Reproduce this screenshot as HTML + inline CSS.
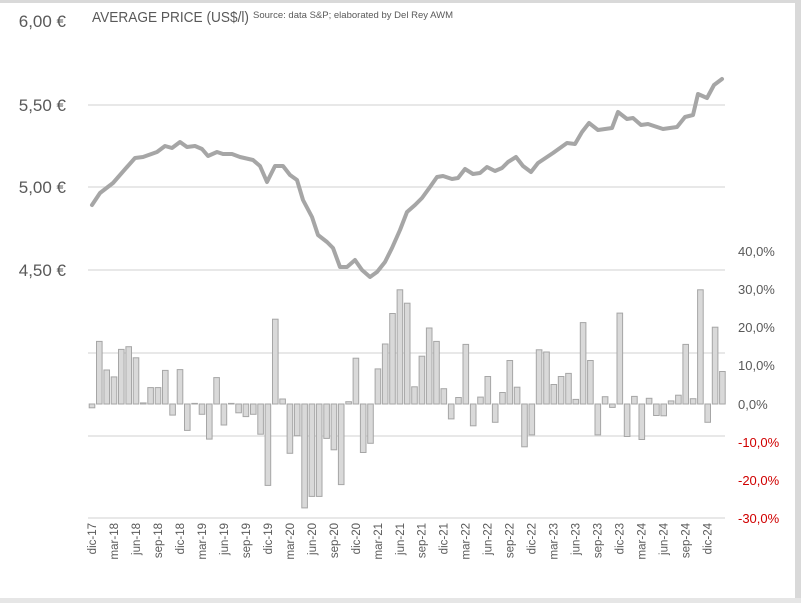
<!DOCTYPE html>
<html><head><meta charset="utf-8"><style>
html,body{margin:0;padding:0;background:#fff;}
svg{display:block;font-family:"Liberation Sans",Arial,sans-serif;}
</style></head><body>
<svg width="801" height="603" viewBox="0 0 801 603" xmlns="http://www.w3.org/2000/svg">
<rect x="0" y="0" width="801" height="603" fill="#fff"/>
<rect x="0" y="0" width="801" height="3" fill="#d9d9d9"/>
<rect x="795" y="0" width="6" height="603" fill="#d9d9d9"/>
<rect x="0" y="598" width="801" height="5" fill="#e6e6e6"/>
<g stroke="#d9d9d9" stroke-width="1.2">
<line x1="88" y1="105" x2="725" y2="105"/>
<line x1="88" y1="187" x2="725" y2="187"/>
<line x1="88" y1="270" x2="725" y2="270"/>
<line x1="88" y1="353" x2="725" y2="353"/>
<line x1="88" y1="436" x2="725" y2="436"/>
<line x1="88" y1="518" x2="725" y2="518"/>
</g>
<g font-size="17" fill="#595959" text-anchor="end">
<text x="66" y="27">6,00 €</text>
<text x="66" y="111">5,50 €</text>
<text x="66" y="193">5,00 €</text>
<text x="66" y="276">4,50 €</text>
</g>
<text x="92" y="22" font-size="14.5" fill="#595959" textLength="157" lengthAdjust="spacingAndGlyphs">AVERAGE PRICE (US$/l)</text>
<text x="253" y="18" font-size="9.5" fill="#595959" textLength="200" lengthAdjust="spacingAndGlyphs">Source: data S&amp;P; elaborated by Del Rey AWM</text>
<g font-size="13" fill="#595959">
<text x="738" y="256">40,0%</text>
<text x="738" y="294">30,0%</text>
<text x="738" y="332">20,0%</text>
<text x="738" y="370">10,0%</text>
<text x="738" y="409">0,0%</text>
</g>
<g font-size="13" fill="#d00000">
<text x="738" y="447">-10,0%</text>
<text x="738" y="485">-20,0%</text>
<text x="738" y="523">-30,0%</text>
</g>
<g fill="#d9d9d9" stroke="#a6a6a6" stroke-width="1">
<rect x="89.2" y="404" width="5.6" height="3.8"/>
<rect x="96.5" y="341.4" width="5.6" height="62.6"/>
<rect x="103.9" y="370" width="5.6" height="34"/>
<rect x="111.2" y="376.9" width="5.6" height="27.1"/>
<rect x="118.5" y="349.4" width="5.6" height="54.6"/>
<rect x="125.9" y="346.7" width="5.6" height="57.3"/>
<rect x="133.2" y="357.8" width="5.6" height="46.2"/>
<rect x="140.5" y="402.9" width="5.6" height="1.1"/>
<rect x="147.8" y="387.6" width="5.6" height="16.4"/>
<rect x="155.2" y="387.6" width="5.6" height="16.4"/>
<rect x="162.5" y="370.4" width="5.6" height="33.6"/>
<rect x="169.8" y="404" width="5.6" height="11.1"/>
<rect x="177.2" y="369.6" width="5.6" height="34.4"/>
<rect x="184.5" y="404" width="5.6" height="26.4"/>
<rect x="191.8" y="403.4" width="5.6" height="0.6"/>
<rect x="199.2" y="404" width="5.6" height="10.3"/>
<rect x="206.5" y="404" width="5.6" height="35.1"/>
<rect x="213.8" y="377.6" width="5.6" height="26.4"/>
<rect x="221.1" y="404" width="5.6" height="21"/>
<rect x="228.5" y="403.4" width="5.6" height="0.6"/>
<rect x="235.8" y="404" width="5.6" height="8.8"/>
<rect x="243.1" y="404" width="5.6" height="12.6"/>
<rect x="250.5" y="404" width="5.6" height="10.3"/>
<rect x="257.8" y="404" width="5.6" height="30.2"/>
<rect x="265.1" y="404" width="5.6" height="81.4"/>
<rect x="272.5" y="319.2" width="5.6" height="84.8"/>
<rect x="279.8" y="399" width="5.6" height="5"/>
<rect x="287.1" y="404" width="5.6" height="49.3"/>
<rect x="294.4" y="404" width="5.6" height="31.7"/>
<rect x="301.8" y="404" width="5.6" height="103.9"/>
<rect x="309.1" y="404" width="5.6" height="92.4"/>
<rect x="316.4" y="404" width="5.6" height="92.4"/>
<rect x="323.8" y="404" width="5.6" height="34.4"/>
<rect x="331.1" y="404" width="5.6" height="45.8"/>
<rect x="338.4" y="404" width="5.6" height="80.6"/>
<rect x="345.8" y="401.7" width="5.6" height="2.3"/>
<rect x="353.1" y="358.2" width="5.6" height="45.8"/>
<rect x="360.4" y="404" width="5.6" height="48.5"/>
<rect x="367.7" y="404" width="5.6" height="39.3"/>
<rect x="375.1" y="368.9" width="5.6" height="35.1"/>
<rect x="382.4" y="344" width="5.6" height="60"/>
<rect x="389.7" y="313.5" width="5.6" height="90.5"/>
<rect x="397.1" y="289.8" width="5.6" height="114.2"/>
<rect x="404.4" y="303.2" width="5.6" height="100.8"/>
<rect x="411.7" y="386.8" width="5.6" height="17.2"/>
<rect x="419.1" y="356.2" width="5.6" height="47.8"/>
<rect x="426.4" y="328" width="5.6" height="76"/>
<rect x="433.7" y="341.4" width="5.6" height="62.6"/>
<rect x="441" y="388.7" width="5.6" height="15.3"/>
<rect x="448.4" y="404" width="5.6" height="14.9"/>
<rect x="455.7" y="397.5" width="5.6" height="6.5"/>
<rect x="463" y="344.4" width="5.6" height="59.6"/>
<rect x="470.4" y="404" width="5.6" height="21.8"/>
<rect x="477.7" y="397.1" width="5.6" height="6.9"/>
<rect x="485" y="376.5" width="5.6" height="27.5"/>
<rect x="492.4" y="404" width="5.6" height="18.3"/>
<rect x="499.7" y="392.5" width="5.6" height="11.5"/>
<rect x="507" y="360.5" width="5.6" height="43.5"/>
<rect x="514.3" y="387.2" width="5.6" height="16.8"/>
<rect x="521.7" y="404" width="5.6" height="42.8"/>
<rect x="529" y="404" width="5.6" height="30.9"/>
<rect x="536.3" y="349.8" width="5.6" height="54.2"/>
<rect x="543.7" y="352" width="5.6" height="52"/>
<rect x="551" y="384.5" width="5.6" height="19.5"/>
<rect x="558.3" y="376.5" width="5.6" height="27.5"/>
<rect x="565.7" y="373.4" width="5.6" height="30.6"/>
<rect x="573" y="399.4" width="5.6" height="4.6"/>
<rect x="580.3" y="322.6" width="5.6" height="81.4"/>
<rect x="587.6" y="360.5" width="5.6" height="43.5"/>
<rect x="595" y="404" width="5.6" height="30.9"/>
<rect x="602.3" y="396.7" width="5.6" height="7.3"/>
<rect x="609.6" y="404" width="5.6" height="3.4"/>
<rect x="617" y="313.1" width="5.6" height="90.9"/>
<rect x="624.3" y="404" width="5.6" height="32.5"/>
<rect x="631.6" y="396.4" width="5.6" height="7.6"/>
<rect x="639" y="404" width="5.6" height="35.5"/>
<rect x="646.3" y="398.3" width="5.6" height="5.7"/>
<rect x="653.6" y="404" width="5.6" height="11.5"/>
<rect x="660.9" y="404" width="5.6" height="11.8"/>
<rect x="668.3" y="400.9" width="5.6" height="3.1"/>
<rect x="675.6" y="395.2" width="5.6" height="8.8"/>
<rect x="682.9" y="344.4" width="5.6" height="59.6"/>
<rect x="690.3" y="398.7" width="5.6" height="5.3"/>
<rect x="697.6" y="289.8" width="5.6" height="114.2"/>
<rect x="704.9" y="404" width="5.6" height="18.3"/>
<rect x="712.3" y="327.2" width="5.6" height="76.8"/>
<rect x="719.6" y="371.5" width="5.6" height="32.5"/>
</g>
<polyline fill="none" stroke="#a6a6a6" stroke-width="4" stroke-linejoin="round" stroke-linecap="round" points="92,205 100,193 113,183 127,167 135,158 143,157 157,152 165,146 172,148 180,142 187,147 195,146 202,149 208,156 217,152 223,154 232,154 240,157 253,160 260,166 267,182 275,166 283,166 290,175 297,180 303,200 312,217 318,235 327,242 333,248 340,267 347,267 355,260 362,270 370,277 377,272 385,262 392,248 400,230 407,212 415,205 422,198 430,187 437,177 443,176 452,179 458,178 465,169 473,174 480,173 487,167 495,171 502,168 508,162 516,157 523,166 531,172 538,163 547,157 553,153 560,148 567,143 575,144 582,132 589,123 598,130 612,128 618,112 627,119 633,118 641,125 648,124 663,129 677,127 685,117 693,115 698,94 707,98 714,85 722,79"/>
<g font-size="11.5" fill="#595959" text-anchor="end">
<text transform="translate(96,523) rotate(-90)">dic-17</text>
<text transform="translate(118,523) rotate(-90)">mar-18</text>
<text transform="translate(140,523) rotate(-90)">jun-18</text>
<text transform="translate(162,523) rotate(-90)">sep-18</text>
<text transform="translate(184,523) rotate(-90)">dic-18</text>
<text transform="translate(206,523) rotate(-90)">mar-19</text>
<text transform="translate(228,523) rotate(-90)">jun-19</text>
<text transform="translate(250,523) rotate(-90)">sep-19</text>
<text transform="translate(272,523) rotate(-90)">dic-19</text>
<text transform="translate(294,523) rotate(-90)">mar-20</text>
<text transform="translate(316,523) rotate(-90)">jun-20</text>
<text transform="translate(338,523) rotate(-90)">sep-20</text>
<text transform="translate(360,523) rotate(-90)">dic-20</text>
<text transform="translate(382,523) rotate(-90)">mar-21</text>
<text transform="translate(404,523) rotate(-90)">jun-21</text>
<text transform="translate(425.5,523) rotate(-90)">sep-21</text>
<text transform="translate(447.5,523) rotate(-90)">dic-21</text>
<text transform="translate(469.5,523) rotate(-90)">mar-22</text>
<text transform="translate(491.5,523) rotate(-90)">jun-22</text>
<text transform="translate(513.5,523) rotate(-90)">sep-22</text>
<text transform="translate(535.5,523) rotate(-90)">dic-22</text>
<text transform="translate(557.5,523) rotate(-90)">mar-23</text>
<text transform="translate(579.5,523) rotate(-90)">jun-23</text>
<text transform="translate(601.5,523) rotate(-90)">sep-23</text>
<text transform="translate(623.5,523) rotate(-90)">dic-23</text>
<text transform="translate(645.5,523) rotate(-90)">mar-24</text>
<text transform="translate(667.5,523) rotate(-90)">jun-24</text>
<text transform="translate(689.5,523) rotate(-90)">sep-24</text>
<text transform="translate(711.5,523) rotate(-90)">dic-24</text>
</g>
</svg>
</body></html>
